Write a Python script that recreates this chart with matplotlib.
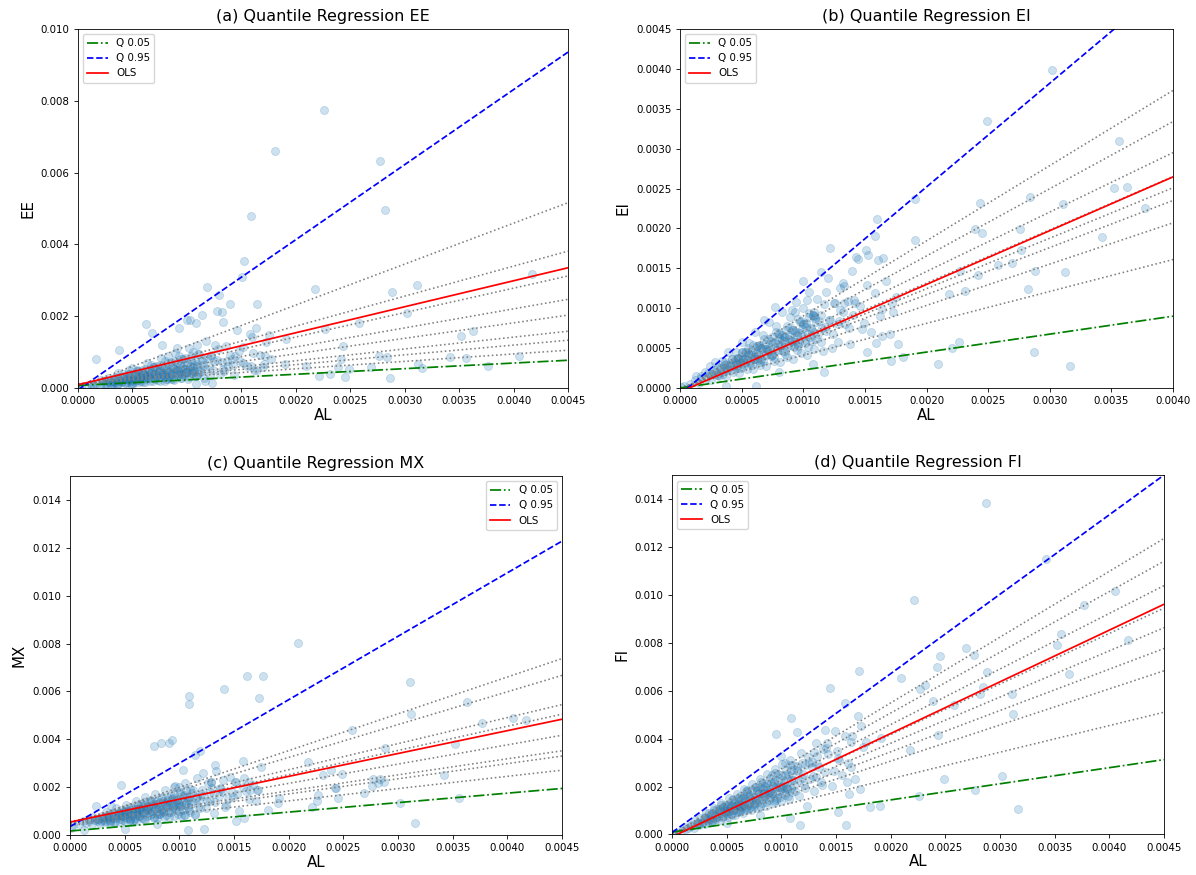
import numpy as np
import matplotlib
matplotlib.use("Agg")
import matplotlib.pyplot as plt
from matplotlib.ticker import MultipleLocator, FormatStrFormatter

# ---------------- data (all values in units of 1e-4) ----------------
AL_dense = [0.3, 0.8, 1.2, 1.5, 1.7, 2.0, 2.1, 2.3, 2.5, 2.6,
            2.8, 2.9, 3.0, 3.1, 3.2, 3.3, 3.4, 3.5, 3.6, 3.7,
            3.8, 3.9, 4.0, 4.1, 4.2, 4.3, 4.4, 4.5, 4.6, 4.7,
            4.8, 4.9, 5.0, 5.1, 5.2, 5.3, 5.4, 5.5, 5.6, 5.7,
            5.8, 5.9, 6.0, 6.1, 6.2, 6.3, 6.4, 6.5, 6.6, 6.7,
            6.8, 6.9, 7.0, 7.1, 7.2, 7.3, 7.4, 7.5, 7.6, 7.7,
            7.8, 7.9, 8.0, 8.1, 8.2, 8.3, 8.4, 8.5, 8.6, 8.7,
            8.8, 8.9, 9.0, 9.1, 9.2, 9.3, 9.4, 9.5, 9.6, 9.7,
            9.8, 9.9, 10.0, 10.1, 10.2, 10.3, 10.4, 10.5, 10.6, 10.7,
            10.8, 10.9, 11.0, 11.1, 11.2, 11.4, 11.6, 11.8, 12.0, 12.2,
            12.4, 12.6, 12.8, 13.0, 13.2, 13.4, 13.6, 13.8, 14.0, 14.3,
            14.6, 14.9, 15.2, 15.5, 15.8, 16.1, 16.4, 16.7, 17.0, 17.5]
EE_dense = [0.17, 0.28, 1.02, 0.68, 1.11, 0.5, 2.31, 1.15, 1.88, 1.04,
            2.66, 1.74, 0.9, 1.71, 1.12, 2.81, 1.53, 2.28, 0.9, 4.07,
            1.9, 2.93, 1.6, 3.9, 2.52, 1.29, 2.42, 1.58, 3.91, 2.12,
            3.12, 1.23, 5.5, 2.55, 3.9, 2.12, 5.13, 3.3, 1.68, 3.14,
            2.03, 5.02, 2.7, 3.97, 1.55, 6.93, 3.2, 4.88, 2.64, 6.37,
            4.08, 2.07, 3.85, 2.49, 6.12, 3.29, 4.81, 1.88, 8.36, 3.85,
            5.85, 3.16, 7.6, 4.86, 2.46, 4.57, 2.94, 7.23, 3.87, 5.66,
            2.2, 9.79, 4.5, 6.83, 3.68, 8.84, 5.64, 2.85, 5.28, 3.4,
            8.33, 4.46, 6.5, 2.53, 11.22, 5.15, 7.8, 4.2, 10.07, 6.42,
            3.24, 6.0, 3.85, 9.44, 5.04, 7.41, 2.9, 12.98, 6.0, 9.15,
            4.96, 11.97, 7.68, 3.9, 7.26, 4.69, 11.56, 6.21, 9.1, 3.58,
            16.06, 7.45, 11.4, 6.2, 15.01, 9.66, 4.92, 9.19, 5.95, 14.88]
EI_dense = [0.21, 0.44, 1.02, 0.68, 1.28, 2.0, 1.26, 1.84, 1.0, 1.69,
            3.22, 2.03, 1.65, 2.64, 1.44, 2.48, 3.4, 2.1, 2.88, 1.48,
            2.47, 4.49, 2.8, 2.26, 3.57, 1.94, 3.3, 4.5, 2.76, 3.76,
            1.92, 3.19, 5.75, 3.57, 2.86, 4.5, 2.43, 4.13, 5.6, 3.42,
            4.64, 2.36, 3.9, 7.02, 4.34, 3.47, 5.44, 2.93, 4.95, 6.7,
            4.08, 5.52, 2.8, 4.62, 8.28, 5.11, 4.07, 6.38, 3.42, 5.78,
            7.8, 4.74, 6.4, 3.24, 5.33, 9.55, 5.88, 4.68, 7.31, 3.92,
            6.6, 8.9, 5.4, 7.28, 3.68, 6.05, 10.81, 6.65, 5.28, 8.25,
            4.41, 7.43, 10.0, 6.06, 8.16, 4.12, 6.76, 12.08, 7.42, 5.89,
            9.18, 4.91, 8.25, 11.1, 6.72, 9.12, 4.64, 7.67, 13.8, 8.54,
            6.82, 10.71, 5.76, 9.75, 13.2, 8.04, 10.88, 5.52, 9.1, 16.45,
            10.22, 8.2, 12.92, 6.98, 11.85, 16.1, 9.84, 13.36, 6.8, 11.38]
MX_dense = [4.3, 4.48, 5.68, 5.2, 6.04, 4.8, 7.57, 6.07, 6.75, 6.6,
            5.68, 8.06, 6.4, 7.72, 5.28, 9.61, 7.06, 7.85, 7.6, 6.22,
            9.32, 7.12, 8.8, 5.64, 11.14, 7.87, 8.84, 8.5, 6.76, 10.58,
            7.84, 9.88, 6.0, 12.67, 8.68, 9.83, 9.4, 7.3, 11.84, 8.56,
            10.96, 6.36, 14.2, 9.49, 10.82, 10.3, 7.84, 13.1, 9.28, 12.04,
            6.72, 15.73, 10.3, 11.81, 11.2, 8.38, 14.36, 10.0, 13.12, 7.08,
            17.26, 11.11, 12.8, 12.1, 8.92, 15.62, 10.72, 14.2, 7.44, 18.79,
            11.92, 13.79, 13.0, 9.46, 16.88, 11.44, 15.28, 7.8, 20.32, 12.73,
            14.78, 13.9, 10.0, 18.14, 12.16, 16.36, 8.16, 21.85, 13.54, 15.77,
            14.8, 10.54, 19.4, 12.88, 17.44, 8.56, 23.72, 14.62, 17.2, 16.2,
            11.44, 21.64, 14.24, 19.6, 9.28, 26.78, 16.24, 19.18, 18.0, 12.58,
            24.44, 15.92, 22.24, 10.2, 30.86, 18.49, 22.04, 20.7, 14.2, 28.5]
FI_dense = [0.63, 1.28, 3.12, 2.78, 4.0, 2.8, 6.09, 4.83, 4.0, 6.76,
            5.18, 6.82, 4.2, 8.99, 6.72, 5.28, 8.84, 6.48, 8.46, 5.18,
            11.02, 8.19, 6.4, 10.66, 7.77, 10.1, 6.16, 13.05, 9.66, 7.52,
            12.48, 9.07, 11.75, 7.14, 15.08, 11.13, 8.64, 14.3, 10.36, 13.4,
            8.12, 17.11, 12.6, 9.76, 16.12, 11.66, 15.04, 9.1, 19.14, 14.07,
            10.88, 17.94, 12.95, 16.69, 10.08, 21.17, 15.54, 12.0, 19.76, 14.25,
            18.33, 11.06, 23.2, 17.01, 13.12, 21.58, 15.54, 19.98, 12.04, 25.23,
            18.48, 14.24, 23.4, 16.84, 21.62, 13.02, 27.26, 19.95, 15.36, 25.22,
            18.13, 23.27, 14.0, 29.29, 21.42, 16.48, 27.04, 19.43, 24.91, 14.98,
            31.32, 22.89, 17.6, 28.86, 20.72, 26.79, 16.24, 34.22, 25.2, 19.52,
            32.24, 23.31, 30.08, 18.2, 38.28, 28.14, 21.76, 35.88, 25.9, 33.61,
            20.44, 43.21, 31.92, 24.8, 41.08, 29.79, 38.54, 23.38, 49.3, 36.75]

AL_core = [2.45, 2.75, 3.05, 3.25, 3.45, 3.65, 3.85, 4.05, 4.25, 4.45,
           4.55, 4.65, 4.85, 4.95, 5.05, 5.15, 5.25, 5.35, 5.45, 5.55,
           5.65, 5.75, 5.85, 5.95, 6.05, 6.15, 6.25, 6.35, 6.45, 6.55,
           6.65, 6.75, 6.85, 6.95, 7.05, 7.15, 7.25, 7.35, 7.45, 7.55,
           7.65, 7.75, 7.85, 7.95, 8.05, 8.15, 8.25, 8.35, 8.45, 8.55,
           8.65, 8.75, 8.85, 8.95, 9.05, 9.15, 9.25, 9.35, 9.45, 9.55,
           9.65, 9.75, 9.85, 9.95, 10.05, 10.15, 10.25, 10.35, 10.45, 10.55,
           10.65, 10.75, 10.85, 10.95, 11.05, 11.25, 11.45, 11.65, 11.85, 12.1,
           12.5, 12.9, 13.3, 13.7, 14.2, 14.8, 5.0, 6.0, 7.0, 8.0,
           9.0, 10.0, 7.5, 8.5, 6.5, 5.5, 9.5, 4.5, 10.5, 11.5]
EE_core = [1.10, 1.93, 0.92, 1.95, 2.93, 1.46, 2.12, 1.82, 2.98, 1.34,
           2.73, 3.95, 1.94, 2.72, 2.27, 3.61, 1.58, 3.21, 4.63, 2.22,
           3.11, 2.59, 4.10, 1.79, 3.63, 5.23, 2.5, 3.49, 2.90, 4.59,
           2.0, 4.05, 5.82, 2.78, 3.88, 3.22, 5.08, 2.21, 4.47, 6.42,
           3.06, 4.26, 3.53, 5.57, 2.42, 4.89, 7.01, 3.34, 4.65, 3.85,
           6.06, 2.63, 5.31, 7.61, 3.62, 5.03, 4.16, 6.55, 2.84, 5.73,
           8.20, 3.9, 5.42, 4.48, 7.04, 3.05, 6.15, 8.80, 4.18, 5.80,
           4.79, 7.53, 3.26, 6.57, 9.39, 4.5, 6.30, 5.24, 8.30, 3.63,
           7.5, 10.97, 5.32, 7.54, 6.39, 10.36, 1.5, 3.6, 5.95, 3.2,
           4.95, 4.5, 5.25, 2.55, 3.9, 4.68, 3.8, 2.48, 4.73, 8.05]
EI_core = [1.59, 2.20, 1.68, 2.44, 1.73, 3.29, 2.31, 2.84, 3.61, 2.89,
           3.64, 2.56, 3.64, 2.48, 4.55, 3.09, 3.68, 4.55, 3.54, 4.44,
           3.11, 4.31, 2.93, 5.36, 3.63, 4.31, 5.31, 4.13, 5.16, 3.60,
           4.99, 3.38, 6.17, 4.17, 4.94, 6.08, 4.71, 5.88, 4.10, 5.66,
           3.83, 6.98, 4.71, 5.57, 6.84, 5.30, 6.6, 4.59, 6.34, 4.28,
           7.79, 5.25, 6.20, 7.61, 5.88, 7.32, 5.09, 7.01, 4.73, 8.60,
           5.79, 6.83, 8.37, 6.47, 8.04, 5.58, 7.69, 5.18, 9.41, 6.33,
           7.46, 9.14, 7.05, 8.76, 6.08, 8.44, 5.73, 10.49, 7.11, 8.47,
           10.63, 8.39, 10.64, 7.54, 10.65, 7.4, 4.5, 3.6, 4.9, 6.8,
           5.85, 8.0, 4.13, 6.38, 3.25, 4.95, 5.7, 3.15, 8.93, 7.48]
MX_core = [5.70, 4.93, 6.97, 5.93, 8.18, 5.92, 7.62, 5.43, 7.25, 9.23,
           5.28, 8.12, 6.40, 9.44, 7.55, 10.73, 7.2, 9.42, 6.27, 8.55,
           10.91, 5.88, 9.44, 7.17, 10.87, 8.54, 12.38, 8.08, 10.74, 6.93,
           9.65, 12.45, 6.43, 10.65, 7.94, 12.30, 9.53, 14.03, 8.96, 12.06,
           7.59, 10.75, 13.99, 6.98, 11.86, 8.71, 13.73, 10.52, 15.68, 9.84,
           13.38, 8.25, 11.85, 15.53, 7.53, 13.07, 9.48, 15.16, 11.51, 17.33,
           10.72, 14.7, 8.91, 12.95, 17.07, 8.08, 14.28, 10.25, 16.59, 12.50,
           18.98, 11.6, 16.02, 9.57, 14.05, 18.75, 8.73, 15.82, 11.30, 18.73,
           14.25, 22.35, 13.64, 19.44, 11.52, 17.8, 10.0, 6.0, 10.7, 8.6,
           14.7, 12.0, 14.25, 9.8, 10.8, 6.3, 12.5, 9.3, 8.25, 15.65]
FI_core = [4.90, 4.68, 7.32, 6.18, 7.59, 5.48, 10.40, 7.29, 9.78, 9.12,
           7.28, 11.63, 9.46, 9.90, 8.59, 12.36, 9.98, 11.77, 8.18, 14.99,
           10.17, 13.23, 11.99, 9.52, 15.13, 11.99, 12.5, 10.80, 15.48, 12.45,
           14.63, 10.13, 18.50, 12.51, 16.22, 14.66, 11.6, 18.38, 14.53, 15.1,
           13.01, 18.6, 14.92, 17.49, 12.08, 22.01, 14.85, 19.21, 17.32, 13.68,
           21.63, 17.06, 17.7, 15.22, 21.72, 17.39, 20.35, 14.03, 25.52, 17.19,
           22.20, 19.99, 15.76, 24.88, 19.60, 20.3, 17.43, 24.84, 19.86, 23.21,
           15.98, 29.03, 19.53, 25.19, 22.65, 18.0, 28.63, 22.72, 23.7, 20.57,
           30.0, 24.51, 29.26, 20.55, 38.34, 26.64, 11.5, 12.3, 11.2, 20.0,
           17.55, 20.0, 12.75, 20.4, 12.35, 12.1, 14.25, 12.15, 18.9, 26.45]

AL_mid = [1.7, 3.75, 6.28, 6.8, 9.3, 10.0, 10.3, 10.85, 10.9, 11.43,
          11.86, 12.2, 12.94, 12.8, 13.2, 13.3, 13.96, 14.1, 14.46, 15.05,
          15.26, 15.85, 15.96, 16.2, 16.45, 16.38, 7.7, 8.3, 9.1, 9.5,
          4.7, 0.05, 1.3, 6.2, 3.7, 11.7, 12.3, 10.8, 15.9, 15.2,
          5.0, 8.0, 2.4]
EE_mid = [8.0, 10.5, 17.8, 15.2, 16.6, 19.0, 19.0, 18.0, 12.0, 20.3,
          28.2, 9.0, 25.8, 21.5, 21.2, 18.4, 23.3, 8.0, 9.0, 31.0,
          35.3, 47.9, 14.2, 5.0, 23.3, 16.8, 12.0, 9.0, 11.0, 8.0,
          5.0, 0.3, 0.5, 3.0, 1.0, 2.0, 1.5, 1.0, 6.0, 7.0,
          0.8, 2.0, 2.0]
EI_mid = [1.5, 3.0, 5.2, 8.5, 9.5, 13.4, 11.0, 9.5, 9.0, 14.5,
          12.0, 17.6, 12.5, 8.0, 9.5, 12.8, 14.6, 11.0, 16.2, 17.3,
          16.7, 19.0, 21.2, 9.0, 16.3, 6.5, 10.1, 6.0, 9.8, 7.0,
          3.8, 0.1, 1.5, 0.25, 0.3, 2.0, 5.0, 3.0, 5.6, 4.55,
          3.5, 2.0, 2.7]
MX_mid = [6.5, 12.0, 11.0, 14.0, 39.5, 20.0, 27.0, 58.0, 54.6, 33.5,
          35.0, 26.0, 22.0, 18.0, 17.0, 29.3, 23.0, 61.2, 15.0, 22.0,
          17.0, 20.0, 24.0, 66.6, 19.0, 15.0, 37.2, 38.5, 38.5, 20.0,
          21.0, 3.0, 2.0, 9.0, 5.0, 12.0, 2.5, 2.0, 7.0, 6.0,
          2.5, 4.5, 12.0]
FI_mid = [3.5, 9.0, 15.0, 18.0, 22.0, 33.0, 30.0, 48.5, 27.0, 43.0,
          30.0, 29.0, 34.5, 28.0, 24.0, 33.0, 43.5, 36.0, 61.3, 35.0,
          31.0, 55.0, 22.0, 17.0, 41.0, 28.0, 20.0, 17.0, 25.0, 42.0,
          11.0, 0.3, 2.5, 10.0, 6.0, 4.0, 12.0, 7.0, 3.8, 9.3,
          5.0, 8.0, 5.0]

AL_far = [41.7, 40.5, 37.7, 36.3, 35.6, 35.2, 34.2, 31.6, 31.1, 31.2,
          30.2, 28.8, 28.7, 28.4, 28.2, 27.7, 27.6, 26.9, 25.8, 24.9,
          24.5, 24.3, 24.2, 23.9, 23.1, 22.7, 22.6, 22.1, 21.8, 20.9,
          19.1, 19.05, 18.1, 17.7, 17.3, 17.1, 17.2]
EE_far = [31.7, 8.9, 6.1, 15.8, 8.4, 14.4, 8.7, 5.5, 28.8, 6.8,
          21.0, 26.6, 2.8, 8.5, 49.7, 63.3, 8.8, 5.9, 18.0, 5.4,
          3.1, 11.7, 8.2, 5.9, 4.0, 16.5, 77.4, 3.3, 27.6, 6.0,
          13.6, 6.8, 66.0, 8.2, 12.7, 6.8, 9.0]
EI_far = [29.0, 26.0, 22.6, 25.25, 30.9, 25.1, 18.9, 2.76, 23.0, 14.5,
          39.9, 14.7, 4.5, 24.0, 12.4, 17.3, 19.9, 15.7, 15.4, 33.5,
          19.4, 23.2, 14.2, 19.9, 12.2, 14.7, 5.77, 5.0, 11.8, 3.05,
          23.7, 18.6, 3.9, 5.5, 9.5, 3.35, 10.6]
MX_far = [48.0, 48.9, 46.9, 55.6, 15.6, 38.2, 25.0, 5.1, 64.0, 50.5,
          13.5, 36.4, 22.2, 23.2, 21.8, 23.6, 20.5, 17.7, 43.7, 25.7,
          15.3, 19.5, 19.5, 27.1, 25.0, 16.7, 14.2, 11.8, 30.3, 80.4,
          15.3, 13.2, 10.4, 66.6, 57.3, 19.0, 19.0]
FI_far = [81.1, 101.7, 95.8, 66.9, 83.8, 79.1, 115.2, 10.7, 58.5, 50.3,
          24.4, 67.8, 138.6, 61.7, 58.9, 18.4, 75.1, 77.9, 54.0, 23.0,
          74.5, 41.5, 69.9, 55.7, 62.3, 60.9, 16.0, 98.0, 35.5, 65.3,
          40.4, 11.8, 11.4, 38.6, 45.3, 68.5, 19.1]

# regression lines: intercept, slope (natural units)
Q05 = {"EE": (0.00007, 0.156), "EI": (0.0, 0.225), "MX": (0.000167, 0.3953), "FI": (0.0001, 0.673)}
Q95 = {"EE": (-0.00005, 2.09), "EI": (-0.00008, 1.30), "MX": (0.00035, 2.651), "FI": (0.00008, 3.32)}
OLS = {"EE": (0.00009, 0.724), "EI": (-0.00005, 0.674), "MX": (0.00054, 0.955), "FI": (-0.0001, 2.16)}
GRAY_INT = {"EE": [0.00003, 0.00005, 0.00006, 0.00008, 0.00009, 0.0001, 0.00011, 0.00012],
            "EI": [-0.00004, -0.00003, -0.00003, -0.00002, -0.00002, -0.00001, 0.0, 0.00001],
            "MX": [0.00045, 0.0005, 0.00055, 0.0005, 0.00055, 0.0005, 0.00045, 0.0004],
            "FI": [0.0, 0.0, -0.00005, -0.00005, -0.00005, 0.0, 0.00005, 0.0001]}
GRAY_SLOPE = {"EE": [1.140, 0.836, 0.680, 0.531, 0.431, 0.329, 0.271, 0.207],
              "EI": [0.9425, 0.8425, 0.745, 0.6675, 0.6325, 0.59, 0.5175, 0.40],
              "MX": [1.538, 1.371, 1.089, 1.011, 0.804, 0.671, 0.633, 0.513],
              "FI": [2.749, 2.538, 2.322, 2.113, 1.931, 1.727, 1.509, 1.113]}

panels = [("EE", "(a) Quantile Regression EE", EE_dense + EE_core + EE_mid + EE_far, 0.0045, 0.010, 0.002, "%.3f", "upper left"),
          ("EI", "(b) Quantile Regression EI", EI_dense + EI_core + EI_mid + EI_far, 0.0040, 0.0045, 0.0005, "%.4f", "upper left"),
          ("MX", "(c) Quantile Regression MX", MX_dense + MX_core + MX_mid + MX_far, 0.0045, 0.015, 0.002, "%.3f", "upper right"),
          ("FI", "(d) Quantile Regression FI", FI_dense + FI_core + FI_mid + FI_far, 0.0045, 0.015, 0.002, "%.3f", "upper left")]

positions = [[0.0652, 0.5566, 0.4097, 0.4103],
             [0.5686, 0.5566, 0.4122, 0.4103],
             [0.0585, 0.0457, 0.4114, 0.4103],
             [0.5619, 0.0463, 0.4114, 0.4103]]

plt.rcParams.update({"font.family": "DejaVu Sans", "axes.linewidth": 0.6,
                     "xtick.major.width": 0.6, "ytick.major.width": 0.6,
                     "xtick.major.size": 2.6, "ytick.major.size": 2.6,
                     "xtick.labelsize": 7.4, "ytick.labelsize": 7.4})

fig = plt.figure(figsize=(11.96, 8.75), dpi=100)
al = np.array(AL_dense + AL_core + AL_mid + AL_far) * 1e-4

for (key, title, yvals, xmax, ymax, ystep, yfmt, loc), pos in zip(panels, positions):
    ax = fig.add_axes(pos)
    y = np.array(yvals) * 1e-4
    xs = np.array([0.0, xmax])
    for b0, b1 in zip(GRAY_INT[key], GRAY_SLOPE[key]):
        ax.plot(xs, b0 + b1 * xs, linestyle="dotted", color="grey", lw=1.15)
    b0, b1 = Q05[key]
    ax.plot(xs, b0 + b1 * xs, linestyle="dashdot", color="green", lw=1.25, label="Q 0.05")
    b0, b1 = Q95[key]
    ax.plot(xs, b0 + b1 * xs, linestyle="dashed", color="blue", lw=1.25, label="Q 0.95")
    b0, b1 = OLS[key]
    ax.plot(xs, b0 + b1 * xs, color="red", lw=1.25, label="OLS")
    ax.scatter(al, y, s=34, alpha=0.22, color="#1f77b4", linewidths=0.6)
    ax.set_xlim(0, xmax)
    ax.set_ylim(0, ymax)
    ax.xaxis.set_major_locator(MultipleLocator(0.0005))
    ax.yaxis.set_major_locator(MultipleLocator(ystep))
    ax.xaxis.set_major_formatter(FormatStrFormatter("%.4f"))
    ax.yaxis.set_major_formatter(FormatStrFormatter(yfmt))
    ax.set_title(title, fontsize=11.5)
    ax.set_xlabel("AL", fontsize=10.8, labelpad=1)
    ax.set_ylabel(key, fontsize=10.8)
    ax.legend(loc=loc, fontsize=7.4)

fig.savefig("out.png", dpi=100)
